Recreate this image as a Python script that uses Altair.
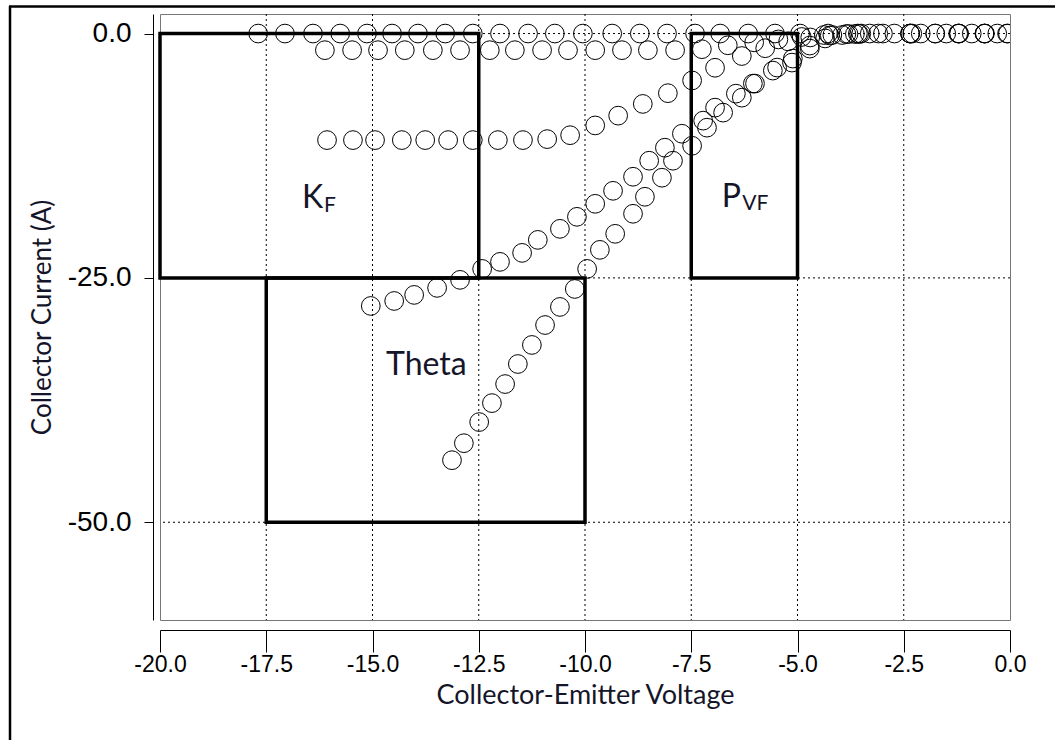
import altair as alt
import pandas as pd

# ---- measured sweeps: collector-emitter voltage (V) and collector current (A) ----
a_v = [-17.69, -17.06, -16.40, -15.76, -15.13, -14.54, -13.93, -13.29, -12.64, -12.00,
       -11.34, -10.71, -10.05, -9.36, -8.71, -8.07, -7.41, -6.82, -6.16, -5.53,
       -4.94, -4.28, -3.58, -2.99, -2.35, -1.76, -1.22, -0.59, -0.07]
a_i = [0.0] * 29

b_v = [-16.12, -15.48, -14.87, -14.24, -13.58, -12.94, -12.24, -11.65, -11.01, -10.40,
       -9.76, -9.13, -8.52, -7.88, -7.25, -6.64, -6.02, -5.45, -4.90, -4.38,
       -3.85, -3.30, -2.72, -2.10, -1.50, -0.90, -0.30]
b_i = [-1.7, -1.7, -1.7, -1.7, -1.7, -1.7, -1.7, -1.7, -1.7, -1.7,
       -1.7, -1.7, -1.7, -1.7, -1.6, -1.2, -0.9, -0.6, -0.35, -0.15,
       -0.05, 0.0, 0.0, 0.0, 0.0, 0.0, 0.0]

c_v = [-16.07, -15.46, -14.94, -14.31, -13.76, -13.22, -12.64, -12.05, -11.46, -10.89,
       -10.35, -9.76, -9.22, -8.64, -8.05, -7.48, -6.94, -6.31, -5.76, -5.22,
       -4.70, -4.18, -3.65, -3.10, -2.35, -1.76, -1.20, -0.60, -0.05]
c_i = [-10.9, -10.9, -10.9, -10.9, -10.9, -10.9, -10.9, -10.9, -10.9, -10.8,
       -10.4, -9.4, -8.4, -7.2, -6.1, -4.8, -3.5, -2.3, -1.5, -0.8,
       -0.4, -0.15, -0.05, 0.0, 0.0, 0.0, 0.0, 0.0, 0.0]

d_v = [-15.04, -14.49, -14.02, -13.48, -12.94, -12.42, -12.00, -11.48, -11.11, -10.59,
       -10.19, -9.76, -9.34, -8.87, -8.49, -8.12, -7.72, -7.22, -6.94, -6.45,
       -6.05, -5.58, -5.13, -4.71, -4.35, -3.95, -3.55, -2.35, -1.20]
d_i = [-27.87, -27.36, -26.74, -26.02, -25.20, -24.08, -23.36, -22.44, -21.11, -19.98,
       -18.75, -17.42, -16.09, -14.65, -13.01, -11.68, -10.25, -8.91, -7.58, -6.15,
       -5.12, -3.79, -2.97, -1.54, -0.50, -0.15, -0.05, 0.0, 0.0]

e_v = [-13.13, -12.85, -12.49, -12.19, -11.88, -11.58, -11.25, -10.94, -10.59, -10.24,
       -9.95, -9.65, -9.29, -8.87, -8.59, -8.19, -7.93, -7.48, -7.13, -6.75,
       -6.31, -6.00, -5.48, -5.11, -4.71, -4.24, -3.80, -3.50, -2.30, -0.60]
e_i = [-43.65, -41.91, -39.75, -37.81, -35.86, -33.81, -31.86, -29.82, -27.97, -26.13,
       -24.08, -22.13, -20.49, -18.44, -16.70, -14.75, -13.01, -11.48, -9.63, -8.09,
       -6.56, -5.12, -3.48, -2.56, -1.23, -0.20, -0.05, 0.0, 0.0, 0.0]

# ---- fitting windows for the parameters ----
box_name = ["K_F", "Theta", "P_VF"]
box_v0 = [-20.0, -17.5, -7.5]
box_v1 = [-12.5, -10.0, -5.0]
box_i0 = [0.0, -25.0, 0.0]
box_i1 = [-25.0, -50.0, -25.0]

# window labels (main letters and subscripts), anchored at their left baseline
label_text = ["K", "Theta", "P"]
label_v = [-16.66, -14.68, -6.78]
label_i = [-17.85, -34.94, -17.75]
sub_text = ["F", "VF"]
sub_v = [-16.14, -6.30]
sub_i = [-18.26, -18.06]

# axis ticks and dotted grid positions
x_ticks = [-20.0, -17.5, -15.0, -12.5, -10.0, -7.5, -5.0, -2.5, 0.0]
y_ticks = [0.0, -25.0, -50.0]
grid_v = [-17.5, -15.0, -12.5, -10.0, -7.5, -5.0, -2.5]
grid_i = [0.0, -25.0, -50.0]

sweeps = pd.concat([
    pd.DataFrame({"sweep": s, "v": v, "i": i})
    for s, v, i in [("A", a_v, a_i), ("B", b_v, b_i), ("C", c_v, c_i),
                    ("D", d_v, d_i), ("E", e_v, e_i)]
], ignore_index=True)
boxes = pd.DataFrame({"name": box_name, "v0": box_v0, "v1": box_v1,
                      "i0": box_i0, "i1": box_i1})
labels = pd.DataFrame({"text": label_text, "v": label_v, "i": label_i})
subs = pd.DataFrame({"text": sub_text, "v": sub_v, "i": sub_i})

x_scale = alt.Scale(domain=[-20, 0], nice=False, zero=False)
y_scale = alt.Scale(domain=[-60, 2], nice=False, zero=False)

label_expr = "(datum.value < 0 ? '-' : '') + format(abs(datum.value), '.1f')"
x_title = "Collector-Emitter Voltage"
y_title = "Collector Current (A)"

# the same axis definitions are used by every layer so they merge cleanly
x_axis = alt.Axis(values=x_ticks, labelExpr=label_expr, offset=10,
                  tickSize=22, labelFont="Liberation Sans",
                  labelFontSize=23, labelPadding=1, labelFlush=False,
                  labelOverlap=False,
                  titleFontSize=27, titlePadding=6, grid=False)
y_axis = alt.Axis(values=y_ticks, labelExpr=label_expr, offset=7,
                  tickSize=9, labelFont="Liberation Sans",
                  labelFontSize=28, labelPadding=13, labelFlush=False,
                  titleFontSize=26, titlePadding=12, grid=False)


def xq(field):
    return alt.X(field, type="quantitative", scale=x_scale, axis=x_axis, title=x_title)


def yq(field):
    return alt.Y(field, type="quantitative", scale=y_scale, axis=y_axis, title=y_title)


grid_x = alt.Chart(pd.DataFrame({"v": grid_v})).mark_rule(
    color="black", strokeWidth=1, strokeDash=[2, 3]
).encode(x=xq("v"))

grid_y = alt.Chart(pd.DataFrame({"i": grid_i})).mark_rule(
    color="black", strokeWidth=1, strokeDash=[2, 3]
).encode(y=yq("i"))

windows = alt.Chart(boxes).mark_rect(
    filled=False, stroke="black", strokeWidth=3.5
).encode(x=xq("v0"), x2="v1:Q", y=yq("i0"), y2="i1:Q")

points = alt.Chart(sweeps).mark_point(
    shape="circle", filled=False, size=350, stroke="black", strokeWidth=1,
    opacity=1, clip=True
).encode(x=xq("v"), y=yq("i"), detail="sweep:N")

main_labels = alt.Chart(labels).mark_text(
    align="left", baseline="alphabetic", font="Lato", fontSize=32, color="#15152a"
).encode(x=xq("v"), y=yq("i"), text="text:N")

sub_labels = alt.Chart(subs).mark_text(
    align="left", baseline="alphabetic", font="Lato", fontSize=21, color="#15152a"
).encode(x=xq("v"), y=yq("i"), text="text:N")

# outer frame of the figure (left and top edges)
frame_df = pd.DataFrame({"k": [0]})
frame_left = alt.Chart(frame_df).mark_rule(color="black", strokeWidth=2.5).encode(
    x=alt.value(-150), y=alt.value(-8), y2=alt.value(730))
frame_top = alt.Chart(frame_df).mark_rule(color="black", strokeWidth=2.5).encode(
    x=alt.value(-151), x2=alt.value(895), y=alt.value(-7.5))

chart = alt.layer(
    grid_x, grid_y, windows, points, main_labels, sub_labels, frame_left, frame_top
).properties(
    width=850, height=606,
    autosize=alt.AutoSizeParams(type="none"),
    padding={"left": 160, "top": 14, "right": 45, "bottom": 120},
    background="white",
).configure_view(
    stroke="#777777", strokeWidth=1
).configure_axis(
    domainColor="black", tickColor="black", labelColor="black",
    titleFont="Lato", titleFontWeight="normal", titleColor="#15152a"
)

chart.save("out.html", embed_options={"renderer": "svg", "actions": False})
